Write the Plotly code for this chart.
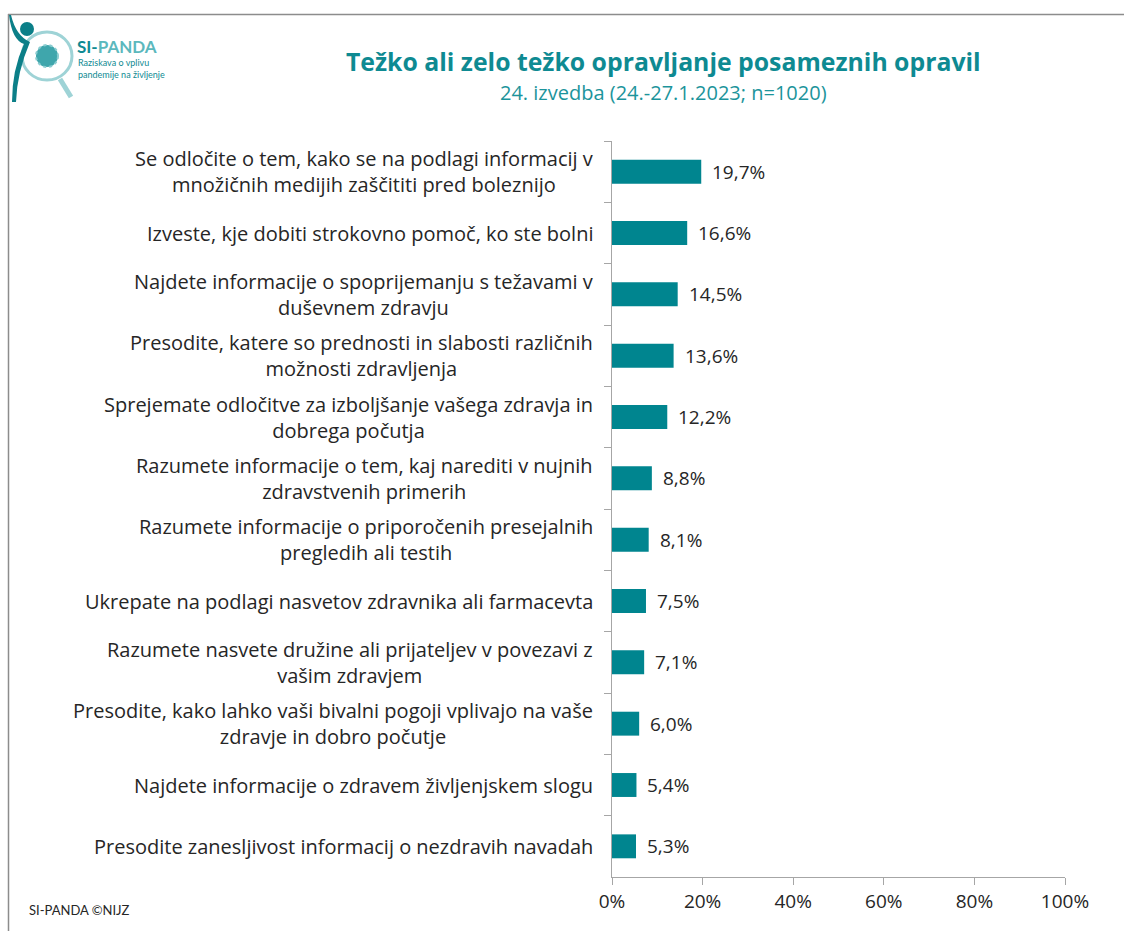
import plotly.graph_objects as go

# Survey items and share of respondents finding each task hard or very hard (%)
categories = [
    "Se odločite o tem, kako se na podlagi informacij v<br>množičnih medijih zaščititi pred boleznijo",
    "Izveste, kje dobiti strokovno pomoč, ko ste bolni",
    "Najdete informacije o spoprijemanju s težavami v<br>duševnem zdravju",
    "Presodite, katere so prednosti in slabosti različnih<br>možnosti zdravljenja",
    "Sprejemate odločitve za izboljšanje vašega zdravja in<br>dobrega počutja",
    "Razumete informacije o tem, kaj narediti v nujnih<br>zdravstvenih primerih",
    "Razumete informacije o priporočenih presejalnih<br>pregledih ali testih",
    "Ukrepate na podlagi nasvetov zdravnika ali farmacevta",
    "Razumete nasvete družine ali prijateljev v povezavi z<br>vašim zdravjem",
    "Presodite, kako lahko vaši bivalni pogoji vplivajo na vaše<br>zdravje in dobro počutje",
    "Najdete informacije o zdravem življenjskem slogu",
    "Presodite zanesljivost informacij o nezdravih navadah",
]
values = [19.7, 16.6, 14.5, 13.6, 12.2, 8.8, 8.1, 7.5, 7.1, 6.0, 5.4, 5.3]
x_ticks = [0, 20, 40, 60, 80, 100]
x_ticktext = ["0%", "20%", "40%", "60%", "80%", "100%"]

TITLE = "Težko ali zelo težko opravljanje posameznih opravil"
SUBTITLE = "24. izvedba (24.-27.1.2023; n=1020)"
FOOTER = "SI-PANDA ©NIJZ"

W, H = 1124, 931
M_L, M_R, M_T, M_B = 612, 59, 141, 54
PW, PH = W - M_L - M_R, H - M_T - M_B

TEAL = "#00858F"
TITLE_TEAL = "#0E8A92"
LIGHT_TEAL = "#5BB8BD"
TEXT = "#262626"
AXIS = "#A6A6A6"
FONT = "'Open Sans', sans-serif"
SMALL_FONT = "Lato, 'Open Sans', sans-serif"


def px(x):
    return (x - M_L) / PW


def py(y):
    return 1 - (y - M_T) / PH


fig = go.Figure(
    go.Bar(
        x=values,
        y=categories,
        orientation="h",
        width=0.39,
        marker=dict(color=TEAL, line=dict(width=0)),
        hoverinfo="skip",
    )
)

annotations = []
# category labels: centred lines, block right-aligned next to the axis
for cat in categories:
    annotations.append(dict(
        x=0, xref="paper", y=cat, yref="y", xanchor="right", yanchor="middle",
        xshift=-17, text=cat, align="center", showarrow=False,
        font=dict(family=FONT, size=20, color=TEXT),
    ))
# value labels after each bar
for cat, v in zip(categories, values):
    annotations.append(dict(
        x=v, xref="x", y=cat, yref="y", xanchor="left", yanchor="middle",
        xshift=9, text=f"{v:.1f}".replace(".", ",") + "%", showarrow=False,
        font=dict(family=FONT, size=19, color=TEXT),
    ))

# titles and footer
annotations += [
    dict(x=px(663), y=py(61), xref="paper", yref="paper", text=f"<b>{TITLE}</b>",
         showarrow=False, xanchor="center", yanchor="middle",
         font=dict(family=FONT, size=24.8, color=TITLE_TEAL)),
    dict(x=px(663), y=py(92), xref="paper", yref="paper", text=SUBTITLE,
         showarrow=False, xanchor="center", yanchor="middle",
         font=dict(family=FONT, size=20, color="#1C949B")),
    dict(x=px(27), y=py(910), xref="paper", yref="paper", text=FOOTER,
         showarrow=False, xanchor="left", yanchor="middle",
         font=dict(family=SMALL_FONT, size=13, color=TEXT)),
    # logo wordmark
    dict(x=px(75), y=py(46), xref="paper", yref="paper",
         text=f"<b><span style='color:{TITLE_TEAL}'>SI-</span>PANDA</b>",
         showarrow=False, xanchor="left", yanchor="middle",
         font=dict(family=SMALL_FONT, size=17, color=LIGHT_TEAL)),
    dict(x=px(76), y=py(68), xref="paper", yref="paper",
         text="Raziskava o vplivu<br>pandemije na življenje", align="left",
         showarrow=False, xanchor="left", yanchor="middle",
         font=dict(family=SMALL_FONT, size=9, color=TITLE_TEAL)),
]

shapes = [
    # frame around the chart
    dict(type="line", xref="paper", yref="paper", x0=px(8), x1=px(W + 5),
         y0=py(14.5), y1=py(14.5), line=dict(color="#8C8C8C", width=1.5)),
    dict(type="line", xref="paper", yref="paper", x0=px(8.5), x1=px(8.5),
         y0=py(14), y1=py(H + 5), line=dict(color="#8C8C8C", width=1.5)),
    # logo: magnifier ring
    dict(type="circle", xref="paper", yref="paper", x0=px(22), x1=px(72),
         y0=py(32), y1=py(80), line=dict(color="#9ED3D6", width=3)),
    # logo: magnifier handle
    dict(type="line", xref="paper", yref="paper", x0=px(60), x1=px(71),
         y0=py(79), y1=py(97), line=dict(color="#9ED3D6", width=5)),
    # logo: virus core
    dict(type="circle", xref="paper", yref="paper", x0=px(36), x1=px(58),
         y0=py(45), y1=py(67), fillcolor="#3FA6AC", line=dict(color="#8ACCD0", width=2, dash="dot")),
    # logo: head
    dict(type="circle", xref="paper", yref="paper", x0=px(20), x1=px(34),
         y0=py(22), y1=py(36), fillcolor="#0B7F88", line=dict(width=0)),
    # logo: body swoosh
    dict(type="path", xref="paper", yref="paper",
         path=(f"M {px(9)},{py(15)} Q {px(12)},{py(40)} {px(24)},{py(44)} "
               f"Q {px(12)},{py(70)} {px(12)},{py(102)} "
               f"L {px(16)},{py(102)} Q {px(17)},{py(72)} {px(30)},{py(42)} "
               f"Q {px(16)},{py(36)} {px(11)},{py(15)} Z"),
         fillcolor="#0B7F88", line=dict(width=0)),
]

fig.update_layout(
    width=W, height=H,
    margin=dict(l=M_L, r=M_R, t=M_T, b=M_B),
    paper_bgcolor="white", plot_bgcolor="white",
    showlegend=False,
    annotations=annotations,
    shapes=shapes,
    xaxis=dict(
        range=[0, 100], tickvals=x_ticks, ticktext=x_ticktext,
        showgrid=False, zeroline=False, showline=True, linecolor=AXIS, linewidth=1,
        ticks="outside", ticklen=7, tickcolor=AXIS, tickwidth=1,
        tickfont=dict(family=FONT, size=19, color=TEXT),
    ),
    yaxis=dict(
        type="category", categoryorder="array", categoryarray=categories,
        range=[len(categories) - 0.5, -0.5],
        showticklabels=False, showgrid=False, zeroline=False,
        showline=True, linecolor=AXIS, linewidth=1,
        ticks="outside", ticklen=7, tickcolor=AXIS, tickwidth=1,
        tickson="boundaries",
    ),
)

fig.write_html("out.html")
